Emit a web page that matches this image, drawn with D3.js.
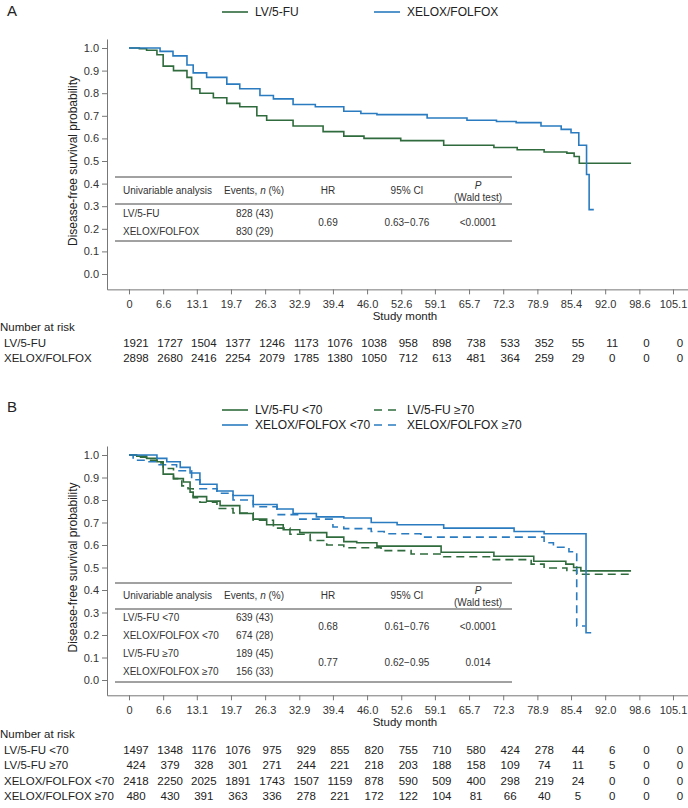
<!DOCTYPE html>
<html>
  <head>
    <meta charset='utf-8' />
    <title>Disease-free survival</title>
    <script src="https://d3js.org/d3.v7.min.js"></script>
    <style>
      body { margin: 0; background: #fff; }
      svg text { font-family: "Liberation Sans", Arial, Helvetica, sans-serif; fill: #222; }
      .axis path, .axis line { stroke: #777; }
      .axis text { font-size: 11px; fill: #333; }
      .km { fill: none; stroke-width: 1.6px; }
      .tbl line { stroke: #444; stroke-width: 1px; }
      .tbl text { font-size: 10px; fill: #333; }
    </style>
  </head>
  <body>
  <svg width="688" height="808"></svg>
  <script>
    // x tick labels (study month)
    var monthTicks = [0, 6.6, 13.1, 19.7, 26.3, 32.9, 39.4, 46.0, 52.6, 59.1, 65.7, 72.3, 78.9, 85.4, 92.0, 98.6, 105.1];
    var survTicks = [0, 0.1, 0.2, 0.3, 0.4, 0.5, 0.6, 0.7, 0.8, 0.9, 1.0];

    // panel A curves [month, survival]
    var lvA = [[0,1.0],[2,0.997],[3.4,0.99],[5.4,0.97],[6.6,0.92],[8.6,0.90],[11.2,0.87],[12.1,0.82],[13.7,0.80],[16.3,0.78],[18.9,0.755],[21.4,0.74],[24.7,0.70],[26.6,0.68],[31.7,0.655],[37.5,0.63],[41.5,0.61],[45.4,0.60],[52.5,0.59],[60.8,0.57],[70.5,0.56],[75,0.55],[80.2,0.54],[84.6,0.535],[86,0.52],[87,0.49],[97,0.49]];
    var xfA = [[0,1.0],[2.1,1.0],[6,0.985],[8.5,0.965],[11.2,0.925],[12.4,0.89],[15,0.87],[18.9,0.84],[21.4,0.82],[25.3,0.79],[27.9,0.775],[31.7,0.75],[36,0.74],[41.5,0.72],[44.8,0.71],[47.9,0.705],[57.6,0.69],[65.3,0.68],[71,0.675],[74.8,0.67],[79.6,0.655],[83.5,0.64],[85.4,0.625],[86.9,0.57],[88.4,0.44],[88.9,0.285],[89.8,0.285]];

    // panel B curves
    var lvB1 = [[0,1.0],[1.5,0.995],[3.4,0.985],[5.4,0.97],[6.6,0.915],[8.6,0.895],[10.5,0.88],[11.8,0.835],[12.4,0.815],[15,0.795],[17.6,0.775],[21.4,0.74],[24,0.715],[26.6,0.69],[29.8,0.668],[33,0.655],[38.2,0.635],[41.5,0.615],[44,0.61],[47.9,0.595],[60.3,0.568],[70.5,0.55],[78.2,0.528],[84.4,0.515],[85.9,0.50],[87.3,0.485],[97,0.485]];
    var lvB2 = [[0,1.0],[2,0.99],[3.4,0.977],[5.4,0.965],[6.6,0.94],[8.6,0.895],[10.2,0.863],[11.4,0.85],[12.4,0.81],[13.7,0.79],[17,0.762],[20.1,0.742],[24,0.71],[27.9,0.675],[31.1,0.648],[35,0.62],[38.2,0.60],[41.5,0.588],[48.7,0.575],[54.5,0.56],[60.8,0.548],[70,0.535],[77.7,0.515],[80.2,0.498],[84.6,0.487],[86.5,0.47],[97,0.47]];
    var xfB1 = [[0,1.0],[5.4,0.985],[7.3,0.97],[9.9,0.945],[11.8,0.92],[13.7,0.87],[17,0.84],[20.1,0.82],[24,0.78],[28.6,0.76],[31.7,0.74],[36.2,0.725],[41.5,0.72],[46.8,0.70],[51.8,0.69],[60.8,0.675],[74.4,0.66],[80.2,0.65],[88.3,0.21],[89.3,0.21]];
    var xfB2 = [[0,1.0],[0.8,0.977],[3.4,0.97],[5.4,0.957],[9.2,0.93],[12.1,0.89],[13.7,0.85],[17,0.83],[20.1,0.80],[24,0.77],[28.6,0.735],[33,0.715],[39.4,0.68],[41.5,0.673],[46.8,0.66],[49.3,0.65],[56.4,0.635],[80.2,0.61],[82,0.59],[85,0.57],[86.5,0.24],[88.2,0.24]];

    // numbers at risk
    var riskA_lv = [1921,1727,1504,1377,1246,1173,1076,1038,958,898,738,533,352,55,11,0,0];
    var riskA_xf = [2898,2680,2416,2254,2079,1785,1380,1050,712,613,481,364,259,29,0,0,0];
    var riskB_lv1 = [1497,1348,1176,1076,975,929,855,820,755,710,580,424,278,44,6,0,0];
    var riskB_lv2 = [424,379,328,301,271,244,221,218,203,188,158,109,74,11,5,0,0];
    var riskB_xf1 = [2418,2250,2025,1891,1743,1507,1159,878,590,509,400,298,219,24,0,0,0];
    var riskB_xf2 = [480,430,391,363,336,278,221,172,122,104,81,66,40,5,0,0,0];

    var green = "#2f6b3c", blue = "#2a7bc0";

    var svg = d3.select("svg");

    var x = d3.scaleLinear().domain([-4.25, 108]).range([107, 688]);

    function panel(o) {
      var g = svg.append("g");
      var y = d3.scaleLinear().domain([0, 1]).range([o.y0, o.y1]);
      var yAx = d3.scaleLinear().domain([-0.068, 1.04]).range([y(-0.068), y(1.04)]);
      var axisY = y(-0.068);

      g.append("text").attr("x", 7).attr("y", o.top + 6).style("font-size", "15px").text(o.letter);

      // y axis
      g.append("g").attr("class", "axis")
        .attr("transform", "translate(107,0)")
        .call(d3.axisLeft(yAx).tickValues(survTicks).tickSize(5).tickSizeOuter(0).tickFormat(d3.format(".1f")));

      // x axis
      g.append("g").attr("class", "axis")
        .attr("transform", "translate(0," + axisY + ")")
        .call(d3.axisBottom(x).tickValues(monthTicks).tickSize(5).tickSizeOuter(0)
          .tickFormat(function(d) { return d === 0 ? "0" : d3.format(".1f")(d); }))
        .selectAll("text").attr("dy", "0.95em");

      g.append("text").attr("x", 405).attr("y", axisY + 31).attr("text-anchor", "middle")
        .style("font-size", "11.5px").text("Study month");

      g.append("text").attr("transform", "translate(77," + ((o.y0 + o.y1) / 2) + ") rotate(-90)")
        .attr("text-anchor", "middle").style("font-size", "12px").text("Disease-free survival probability");

      // legend
      o.legend.forEach(function(l) {
        g.append("line").attr("x1", l.x).attr("x2", l.x + 26).attr("y1", l.y).attr("y2", l.y)
          .attr("stroke", l.color).attr("stroke-width", 1.6).attr("stroke-dasharray", l.dash ? "8,6" : null);
        g.append("text").attr("x", l.x + 33).attr("y", l.y + 4).style("font-size", "12px").text(l.name);
      });

      // curves
      var line = d3.line().x(function(d) { return x(d[0]); }).y(function(d) { return y(d[1]); })
        .curve(d3.curveStepAfter);
      o.curves.forEach(function(c) {
        g.append("path").attr("class", "km").attr("d", line(c.data))
          .attr("stroke", c.color).attr("stroke-dasharray", c.dash ? "8,5" : null);
      });

      // embedded table
      var t = g.append("g").attr("class", "tbl");
      [o.tTop, o.tDiv, o.tBot].forEach(function(yy) {
        t.append("line").attr("x1", 115).attr("x2", 512).attr("y1", yy).attr("y2", yy);
      });
      var hy = (o.tTop + o.tDiv) / 2 + 3;
      t.append("text").attr("x", 123).attr("y", hy).text("Univariable analysis");
      var ev = t.append("text").attr("x", 224).attr("y", hy);
      ev.append("tspan").text("Events, ");
      ev.append("tspan").style("font-style", "italic").text("n");
      ev.append("tspan").text(" (%)");
      t.append("text").attr("x", 328).attr("y", hy).attr("text-anchor", "middle").text("HR");
      t.append("text").attr("x", 407).attr("y", hy).attr("text-anchor", "middle").text("95% CI");
      t.append("text").attr("x", 478).attr("y", hy - 5).attr("text-anchor", "middle").style("font-style", "italic").text("P");
      t.append("text").attr("x", 478).attr("y", hy + 7).attr("text-anchor", "middle").text("(Wald test)");
      o.rows.forEach(function(r) {
        t.append("text").attr("x", 123).attr("y", r.y + 3).text(r.name);
        t.append("text").attr("x", 236).attr("y", r.y + 3).text(r.events);
      });
      o.stats.forEach(function(s) {
        t.append("text").attr("x", 328).attr("y", s.y + 3).attr("text-anchor", "middle").text(s.hr);
        t.append("text").attr("x", 407).attr("y", s.y + 3).attr("text-anchor", "middle").text(s.ci);
        t.append("text").attr("x", 478).attr("y", s.y + 3).attr("text-anchor", "middle").text(s.p);
      });

      // number at risk
      g.append("text").attr("x", 0).attr("y", o.riskY).style("font-size", "11.5px").text("Number at risk");
      o.risk.forEach(function(r, i) {
        var ry = o.riskY + (i + 1) * o.riskStep;
        g.append("text").attr("x", 4).attr("y", ry).style("font-size", "11.5px").text(r.name);
        g.selectAll(null).data(r.values).enter().append("text")
          .attr("x", function(d, j) { return x(monthTicks[j]) + 7; })
          .attr("y", ry).attr("text-anchor", "middle").style("font-size", "11.5px")
          .text(function(d) { return d; });
      });
    }

    panel({
      letter: "A", top: 10, y0: 274, y1: 48,
      legend: [{x: 222, y: 12, color: green, name: "LV/5-FU"},
               {x: 374, y: 12, color: blue, name: "XELOX/FOLFOX"}],
      curves: [{data: lvA, color: green}, {data: xfA, color: blue}],
      tTop: 177, tDiv: 204, tBot: 241,
      rows: [{y: 214, name: "LV/5-FU", events: "828 (43)"},
             {y: 232, name: "XELOX/FOLFOX", events: "830 (29)"}],
      stats: [{y: 223, hr: "0.69", ci: "0.63\u22120.76", p: "<0.0001"}],
      riskY: 331, riskStep: 15.5,
      risk: [{name: "LV/5-FU", values: riskA_lv}, {name: "XELOX/FOLFOX", values: riskA_xf}]
    });

    panel({
      letter: "B", top: 406, y0: 680, y1: 455,
      legend: [{x: 222, y: 410, color: green, name: "LV/5-FU <70"},
               {x: 374, y: 410, color: green, dash: true, name: "LV/5-FU \u226570"},
               {x: 222, y: 425, color: blue, name: "XELOX/FOLFOX <70"},
               {x: 374, y: 425, color: blue, dash: true, name: "XELOX/FOLFOX \u226570"}],
      curves: [{data: lvB2, color: green, dash: true}, {data: xfB2, color: blue, dash: true},
               {data: lvB1, color: green}, {data: xfB1, color: blue}],
      tTop: 583, tDiv: 609, tBot: 682,
      rows: [{y: 618, name: "LV/5-FU <70", events: "639 (43)"},
             {y: 636, name: "XELOX/FOLFOX <70", events: "674 (28)"},
             {y: 654, name: "LV/5-FU \u226570", events: "189 (45)"},
             {y: 672, name: "XELOX/FOLFOX \u226570", events: "156 (33)"}],
      stats: [{y: 627, hr: "0.68", ci: "0.61\u22120.76", p: "<0.0001"},
              {y: 663, hr: "0.77", ci: "0.62\u22120.95", p: "0.014"}],
      riskY: 738, riskStep: 15.6,
      risk: [{name: "LV/5-FU <70", values: riskB_lv1}, {name: "LV/5-FU \u226570", values: riskB_lv2},
             {name: "XELOX/FOLFOX <70", values: riskB_xf1}, {name: "XELOX/FOLFOX \u226570", values: riskB_xf2}]
    });
  </script>
</body>
</html>
